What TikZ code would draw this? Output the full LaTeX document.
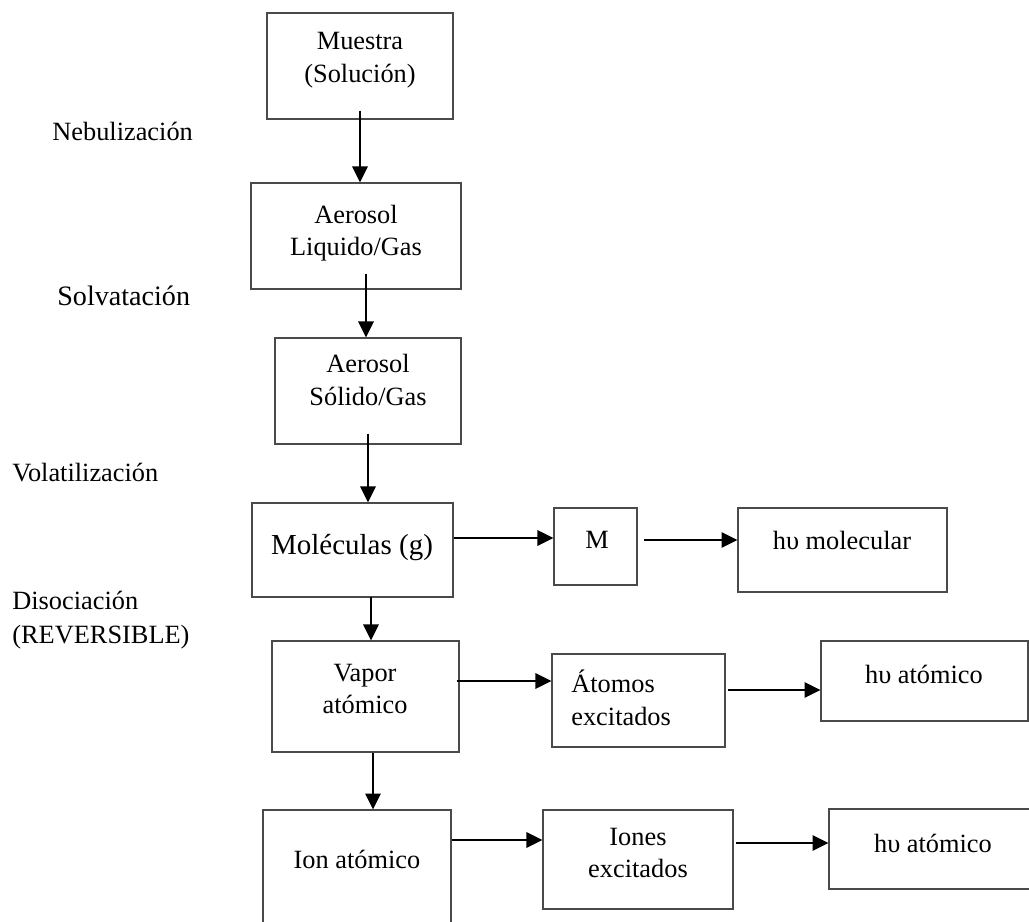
\documentclass[tikz,border=0pt]{standalone}
\usepackage{fontspec}
\setmainfont{Liberation Serif}
\usetikzlibrary{arrows.meta}
\definecolor{frame}{HTML}{4A4A4A}

\begin{document}
\begin{tikzpicture}[x=0.02cm,y=-0.02cm,
  font=\fontsize{15pt}{18.5pt}\selectfont,
  box/.style={draw=frame,line width=0.6pt,inner sep=0pt},
  txt/.style={align=center,inner sep=0pt},
  stage/.style={anchor=west,align=left,inner sep=0pt},
  ar/.style={-{Triangle[length=0.32cm,width=0.3cm]},line width=1.6pt}]
  \clip (0,0) rectangle (1029,921);

  % main column
  \node[box,minimum width=3.72cm,minimum height=2.12cm] (muestra) at (360,66) {};
  \node[txt] (muestra-t) at (360,60) {Muestra\\(Solución)};
  \node[box,minimum width=4.2cm,minimum height=2.12cm] (liquido) at (356,236) {};
  \node[txt] (liquido-t) at (356,233) {Aerosol\\Liquido/Gas};
  \node[box,minimum width=3.72cm,minimum height=2.12cm] (solido) at (368,391) {};
  \node[txt] (solido-t) at (368,380) {Aerosol\\Sólido/Gas};
  \node[box,minimum width=4.02cm,minimum height=1.88cm] (mol) at (352.5,550) {};
  \node[txt,font=\fontsize{16.5pt}{20pt}\selectfont] (mol-t) at (352,548) {Moléculas (g)};
  \node[box,minimum width=3.74cm,minimum height=2.22cm] (vapor) at (365.5,696.5) {};
  \node[txt] (vapor-t) at (365,689) {Vapor\\atómico};
  \node[box,minimum width=3.76cm,minimum height=2.6cm] (ion) at (357,875) {};
  \node[txt] (ion-t) at (357,859) {Ion atómico};

  % emission branches
  \node[box,minimum width=1.66cm,minimum height=1.54cm] (M) at (595.5,546.5) {};
  \node[txt] (M-t) at (597,540) {M};
  \node[box,minimum width=4.18cm,minimum height=1.68cm] (hvmol) at (842.5,550) {};
  \node[txt] (hvmol-t) at (842,540) {hυ molecular};
  \node[box,minimum width=3.46cm,minimum height=1.86cm] (atomos) at (638.5,700.5) {};
  \node[stage] (atomos-t) at (571,698) {Átomos\\excitados};
  \node[box,minimum width=4.14cm,minimum height=1.6cm] (hvat1) at (924.5,681) {};
  \node[txt] (hvat1-t) at (924,674) {hυ atómico};
  \node[box,minimum width=3.8cm,minimum height=1.98cm] (iones) at (638,859.5) {};
  \node[txt] (iones-t) at (638,853) {Iones\\excitados};
  \node[box,minimum width=4.22cm,minimum height=1.6cm] (hvat2) at (934.5,849) {};
  \node[txt] (hvat2-t) at (933,843) {hυ atómico};

  % process steps on the left
  \node[stage] (nebu) at (52,131) {Nebulización};
  \node[stage,font=\fontsize{16pt}{19pt}\selectfont] (solva) at (57,296) {Solvatación};
  \node[stage] (vola) at (12,473) {Volatilización};
  \node[stage,font=\fontsize{15pt}{19.5pt}\selectfont] (diso) at (12,620) {Disociación\\(REVERSIBLE)};

  % downward arrows
  \draw[ar] ([yshift=0.18cm]muestra.south) coordinate (a1) -- (a1 |- liquido.north);
  \draw[ar] ([xshift=0.2cm,yshift=0.32cm]liquido.south) coordinate (a2) -- (a2 |- solido.north);
  \draw[ar] ([yshift=0.22cm]solido.south) coordinate (a3) -- (a3 |- mol.north);
  \draw[ar] ([xshift=0.37cm,yshift=0.02cm]mol.south) coordinate (a4) -- (a4 |- vapor.north);
  \draw[ar] ([xshift=0.15cm]vapor.south) coordinate (a5) -- (a5 |- ion.north);

  % sideways arrows
  \draw[ar] ([yshift=0.24cm]mol.east) coordinate (b1) -- (b1 -| M.west);
  \draw[ar] ([xshift=0.12cm,yshift=0.13cm]M.east) coordinate (b2) -- (b2 -| hvmol.west);
  \draw[ar] ([xshift=-0.06cm,yshift=0.31cm]vapor.east) coordinate (b3) -- (b3 -| atomos.west);
  \draw[ar] ([xshift=0.04cm,yshift=0.21cm]atomos.east) coordinate (b4) -- (b4 -| hvat1.west);
  \draw[ar] ([yshift=0.7cm]ion.east) coordinate (b5) -- (b5 -| iones.west);
  \draw[ar] ([xshift=0.04cm,yshift=0.33cm]iones.east) coordinate (b6) -- (b6 -| hvat2.west);
\end{tikzpicture}
\end{document}
